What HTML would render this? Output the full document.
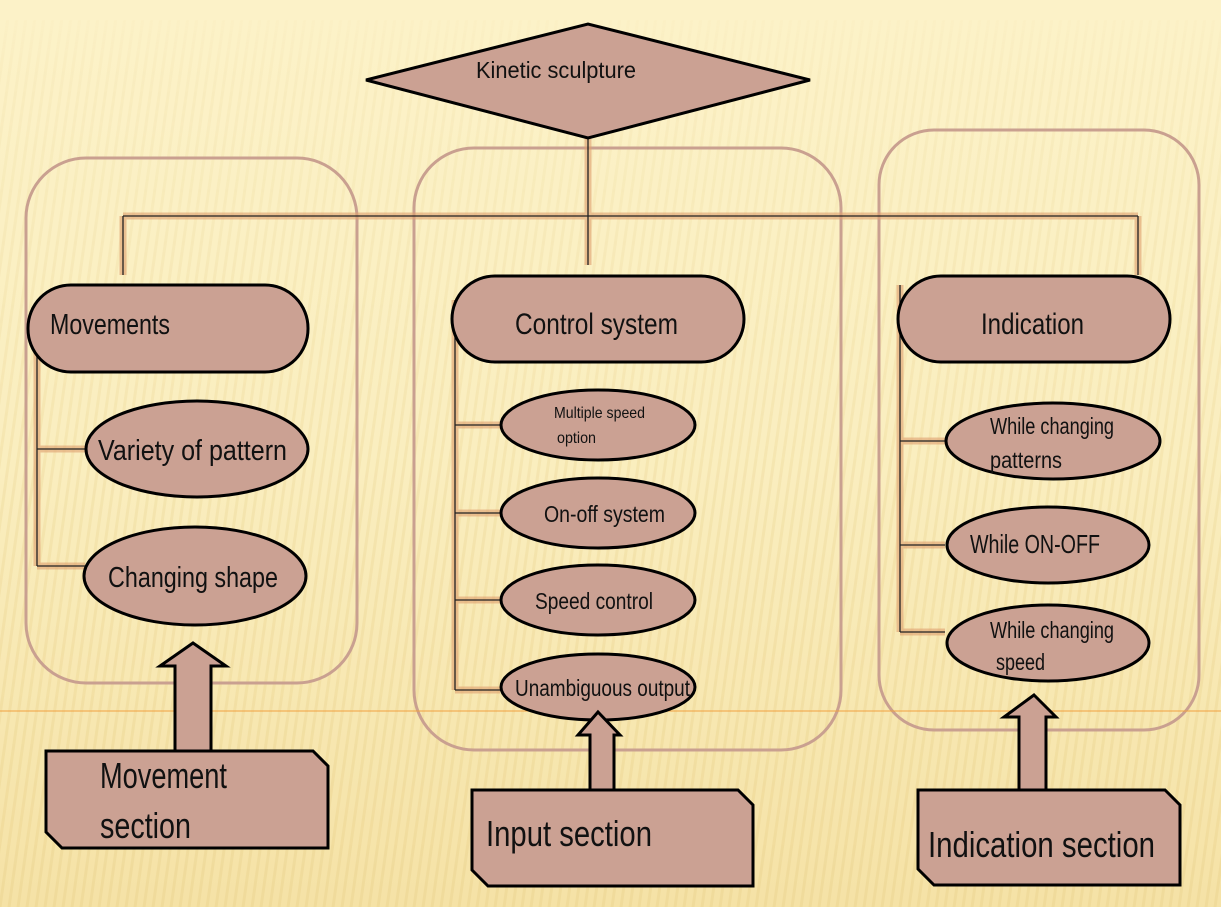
<!DOCTYPE html>
<html><head><meta charset="utf-8"><style>
html,body{margin:0;padding:0;width:1221px;height:907px;overflow:hidden;background:#fbf0c6}
svg{display:block}
text{font-family:"Liberation Sans Narrow","Liberation Sans",sans-serif;fill:#111}
</style></head><body>
<svg width="1221" height="907" viewBox="0 0 1221 907">
<defs>
<linearGradient id="bg" x1="0" y1="0" x2="0" y2="1">
<stop offset="0" stop-color="#fcf2c8"/><stop offset="0.5" stop-color="#faeebf"/><stop offset="1" stop-color="#f5e2a6"/>
</linearGradient>
<pattern id="st" width="9" height="907" patternUnits="userSpaceOnUse" patternTransform="skewX(-8)">
<rect x="0" y="0" width="3" height="907" fill="#e8cf86" opacity="0.35"/>
</pattern>
<linearGradient id="fade" x1="0" y1="0" x2="0" y2="1">
<stop offset="0" stop-color="#fff" stop-opacity="0"/><stop offset="0.08" stop-color="#fff" stop-opacity="0.3"/><stop offset="0.5" stop-color="#fff" stop-opacity="0.7"/><stop offset="1" stop-color="#fff" stop-opacity="1"/>
</linearGradient>
<mask id="m"><rect width="1221" height="907" fill="url(#fade)"/></mask>
</defs>
<rect width="1221" height="907" fill="url(#bg)"/>
<rect y="20" width="1221" height="887" fill="url(#st)" mask="url(#m)"/>

<g fill="none" stroke="#c9a090" stroke-width="3">
<rect x="26" y="158" width="331" height="525" rx="60"/>
<rect x="414" y="148" width="427" height="602" rx="60"/>
<rect x="879" y="130" width="320" height="600" rx="55"/>
</g>
<line x1="0" y1="711" x2="1221" y2="711" stroke="#f0a040" stroke-width="1"/>

<g stroke="#e0a070" stroke-width="7" fill="none" opacity="0.6">
<path d="M588 138V265M123 216H1138M123 216V275M1138 216V275"/>
<path d="M37 340V566M37 449H87M37 566H85"/>
<path d="M455 300V690M455 425H500M455 513H500M455 600H500M455 690H500"/>
<path d="M900 285V632M900 441H945M900 545H945M900 632H945"/>
</g>
<g stroke="#222" stroke-width="1.3" fill="none">
<path d="M588 138V265M123 216H1138M123 216V275M1138 216V275"/>
<path d="M37 340V566M37 449H87M37 566H85"/>
<path d="M455 300V690M455 425H500M455 513H500M455 600H500M455 690H500"/>
<path d="M900 285V632M900 441H945M900 545H945M900 632H945"/>
</g>

<g fill="#cba193" stroke="#000" stroke-width="3">
<polygon points="366,80 588,24 810,80 588,138"/>
<rect x="28" y="285" width="280" height="87" rx="43"/>
<rect x="452" y="276" width="292" height="86" rx="43"/>
<rect x="898" y="276" width="272" height="86" rx="43"/>
<ellipse cx="197" cy="449" rx="111" ry="48"/>
<ellipse cx="195" cy="576" rx="111" ry="49"/>
<ellipse cx="598" cy="425" rx="97" ry="35"/>
<ellipse cx="598" cy="513" rx="97" ry="35"/>
<ellipse cx="598" cy="600" rx="97" ry="35"/>
<ellipse cx="598" cy="687" rx="97" ry="33"/>
<ellipse cx="1053" cy="441" rx="107" ry="38"/>
<ellipse cx="1048" cy="545" rx="101" ry="38"/>
<ellipse cx="1048" cy="643" rx="101" ry="38"/>
<polygon points="193,643 226,666 211,666 211,752 175,752 175,666 160,666"/>
<polygon points="598,712 620,735 614,735 614,792 590,792 590,735 578,735"/>
<polygon points="1034,695 1056,717 1046,717 1046,792 1019,792 1019,717 1004,717"/>
<polygon points="46,751 313,751 328,766 328,848 62,848 46,832"/>
<polygon points="472,790 738,790 753,805 753,886 488,886 472,870"/>
<polygon points="918,790 1165,790 1180,805 1180,885 934,885 918,869"/>
</g>

<g>
<text x="476" y="78" font-size="23" textLength="160" lengthAdjust="spacingAndGlyphs">Kinetic sculpture</text>
<text x="50" y="334" font-size="29" textLength="120" lengthAdjust="spacingAndGlyphs">Movements</text>
<text x="515" y="334" font-size="30" textLength="163" lengthAdjust="spacingAndGlyphs">Control system</text>
<text x="981" y="334" font-size="30" textLength="103" lengthAdjust="spacingAndGlyphs">Indication</text>
<text x="98" y="460" font-size="29" textLength="189" lengthAdjust="spacingAndGlyphs">Variety of pattern</text>
<text x="108" y="587" font-size="29" textLength="170" lengthAdjust="spacingAndGlyphs">Changing shape</text>
<text x="554" y="418" font-size="16" textLength="91" lengthAdjust="spacingAndGlyphs">Multiple speed</text>
<text x="557" y="443" font-size="16" textLength="39" lengthAdjust="spacingAndGlyphs">option</text>
<text x="544" y="522" font-size="23" textLength="121" lengthAdjust="spacingAndGlyphs">On-off system</text>
<text x="535" y="609" font-size="23" textLength="118" lengthAdjust="spacingAndGlyphs">Speed control</text>
<text x="515" y="696" font-size="23" textLength="175" lengthAdjust="spacingAndGlyphs">Unambiguous output</text>
<text x="990" y="434" font-size="23" textLength="124" lengthAdjust="spacingAndGlyphs">While changing</text>
<text x="990" y="468" font-size="23" textLength="72" lengthAdjust="spacingAndGlyphs">patterns</text>
<text x="970" y="553" font-size="26" textLength="130" lengthAdjust="spacingAndGlyphs">While ON-OFF</text>
<text x="990" y="638" font-size="23" textLength="124" lengthAdjust="spacingAndGlyphs">While changing</text>
<text x="996" y="670" font-size="23" textLength="49" lengthAdjust="spacingAndGlyphs">speed</text>
<text x="100" y="788" font-size="36" textLength="127" lengthAdjust="spacingAndGlyphs">Movement</text>
<text x="100" y="838" font-size="36" textLength="91" lengthAdjust="spacingAndGlyphs">section</text>
<text x="486" y="846" font-size="36" textLength="166" lengthAdjust="spacingAndGlyphs">Input section</text>
<text x="928" y="857" font-size="36" textLength="227" lengthAdjust="spacingAndGlyphs">Indication section</text>
</g>
</svg>
</body></html>
